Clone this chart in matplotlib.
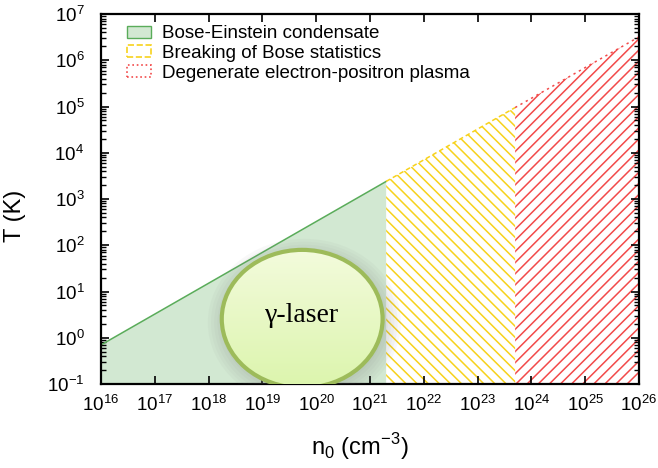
import numpy as np
from matplotlib import pyplot as plt
from matplotlib.colors import LinearSegmentedColormap
from matplotlib.patches import Ellipse, Patch
from matplotlib.ticker import LogLocator, NullFormatter, NullLocator

# Границы областей по плотности и температура на линии T(n0)
n_edges = [1e16, 2e21, 5e23, 1e26]
T_edges = [0.7, 2.4e3, 9.5e4, 3.2e6]
region_names = ["Bose-Einstein condensate",
                "Breaking of Bose statistics",
                "Degenerate electron-positron plasma"]
x_ticks = [1e16, 1e17, 1e18, 1e19, 1e20, 1e21, 1e22, 1e23, 1e24, 1e25, 1e26]
y_ticks = [1e-1, 1e0, 1e1, 1e2, 1e3, 1e4, 1e5, 1e6, 1e7]

green = "#5aac5a"
green_fill = "#d2e8d2"
yellow = "#f7d21c"
red = "#f24a4a"

plt.rcParams['font.family'] = ['Liberation Sans', 'DejaVu Sans']
plt.rcParams['hatch.linewidth'] = 1.1
plt.rcParams['mathtext.fontset'] = 'custom'
plt.rcParams['mathtext.rm'] = 'Liberation Sans'
plt.rcParams['axes.unicode_minus'] = False

fig = plt.figure(figsize=(6.58, 4.68), dpi=100)
ax = fig.add_axes([0.1535, 0.1795, 0.8175, 0.7905])
ax.set_xscale('log')
ax.set_yscale('log')
ymin = y_ticks[0]

# Зеленая область - конденсат
ax.fill_between(n_edges[0:2], ymin, T_edges[0:2], facecolor=green_fill,
                edgecolor='none', zorder=1)
ax.plot(n_edges[0:2], T_edges[0:2], color=green, lw=1.1, zorder=2)

# Желтая штриховка
ax.fill_between(n_edges[1:3], ymin, T_edges[1:3], facecolor='none',
                edgecolor=yellow, hatch='\\\\\\', linewidth=0, zorder=1)
ax.plot(n_edges[1:3], T_edges[1:3], color=yellow, lw=1.1, ls=(0, (3, 2)), zorder=2)

# Красная штриховка
ax.fill_between(n_edges[2:4], ymin, T_edges[2:4], facecolor='none',
                edgecolor=red, hatch='///', linewidth=0, zorder=1)
ax.plot(n_edges[2:4], T_edges[2:4], color=red, lw=1.1, ls=(0, (1.5, 2.5)), zorder=2)

ax.set_xlim(x_ticks[0], x_ticks[-1])
ax.set_ylim(y_ticks[0], y_ticks[-1])

ax.set_xticks(x_ticks)
ax.xaxis.set_minor_locator(NullLocator())
ax.set_yticks(y_ticks)
ax.yaxis.set_minor_locator(LogLocator(base=10, subs=np.arange(2, 10), numticks=20))
ax.yaxis.set_minor_formatter(NullFormatter())
ax.tick_params(which='both', direction='in', top=True, right=True, labelsize=13.5)
ax.tick_params(which='major', length=6, width=1.2)
ax.tick_params(which='minor', length=3.5, width=1.0)
ax.tick_params(axis='x', pad=8)
ax.tick_params(axis='y', pad=12)
for s in ax.spines.values():
    s.set_linewidth(1.6)

ax.set_xlabel(r"n$_0$ (cm$^{-3}$)", fontsize=17, va='center')
ax.xaxis.set_label_coords(0.481, -0.170)
ax.set_ylabel("T (K)", fontsize=17, va='center')
ax.yaxis.set_label_coords(-0.160, 0.454)

# Эллипс "γ-laser" с тенью и градиентом
cx, cy, w, h = 0.374, 0.176, 0.299, 0.373
for k in range(6):
    sh = Ellipse((cx + 0.004, cy - 0.01), w + 0.012 * k, h + 0.016 * k,
                 transform=ax.transAxes, facecolor='gray', edgecolor='none',
                 alpha=0.05, zorder=3)
    ax.add_patch(sh)
ell = Ellipse((cx, cy), w, h, transform=ax.transAxes, facecolor='none',
              edgecolor='#9dbb5a', lw=3, zorder=5)
ax.add_patch(ell)
grad = np.linspace(0, 1, 100).reshape(-1, 1)
img = ax.imshow(grad, cmap=LinearSegmentedColormap.from_list(
    'g', ['#dcf5ad', '#f3fbdc']), origin='lower', aspect='auto',
    extent=[cx - w / 2, cx + w / 2, cy - h / 2, cy + h / 2],
    transform=ax.transAxes, zorder=4)
clip = Ellipse((cx, cy), w, h, transform=ax.transAxes, facecolor='none', edgecolor='none')
ax.add_patch(clip)
img.set_clip_path(clip)
ax.text(cx, cy + 0.01, "γ-laser", transform=ax.transAxes, ha='center', va='center',
        fontsize=20, family=['Liberation Serif', 'DejaVu Serif'], zorder=6)

handles = [Patch(facecolor=green_fill, edgecolor=green, lw=1),
           Patch(facecolor='none', edgecolor=yellow, lw=1.2, ls='--'),
           Patch(facecolor='none', edgecolor=red, lw=1.2, ls=':')]
ax.legend(handles, region_names, loc='upper left', frameon=False, fontsize=13.5,
          handlelength=1.25, handleheight=0.6, handletextpad=0.6, labelspacing=0.15,
          borderaxespad=0.0, bbox_to_anchor=(0.035, 0.99))

fig.savefig("out.png", dpi=100)
